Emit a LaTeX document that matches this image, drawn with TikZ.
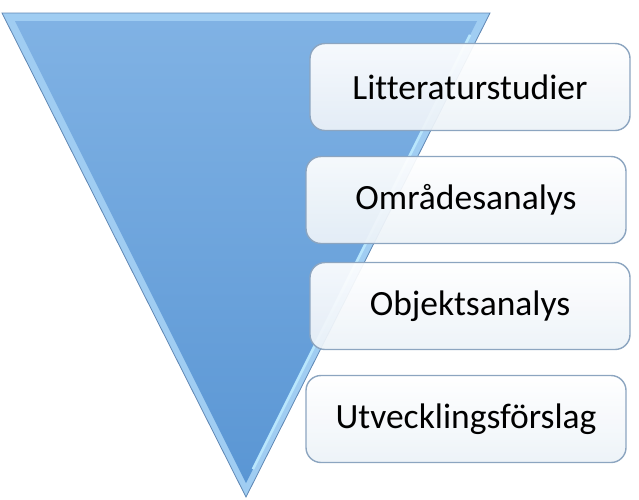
\documentclass[tikz,border=0pt]{standalone}
\usepackage{fontspec}
\setmainfont[Ligatures=NoCommon]{Carlito}
\usetikzlibrary{positioning,calc}
\definecolor{facetop}{RGB}{128,178,228}
\definecolor{facebot}{RGB}{90,150,212}
\definecolor{bevel}{RGB}{160,205,242}
\definecolor{rim}{RGB}{95,135,180}
\definecolor{gloss}{RGB}{185,230,252}
\definecolor{boxedge}{RGB}{140,165,192}
\definecolor{boxbot}{RGB}{236,242,248}

\begin{document}
\begin{tikzpicture}[x=1pt,y=-1pt,
  stage/.style={draw=boxedge, line width=1.4pt, rounded corners=15pt,
    top color=white, bottom color=boxbot, fill opacity=0.93, text opacity=1,
    minimum width=320pt, minimum height=87pt,
    font=\fontsize{35.5}{38}\selectfont}]
\useasboundingbox (0,0) rectangle (639,499);
% funnel
\coordinate (tl) at (2,13);
\coordinate (tr) at (490,13);
\coordinate (ap) at (246,497);
\coordinate (itl) at (15,21);
\coordinate (itr) at (477,21);
\coordinate (iap) at (246,483);
\fill[bevel] (tl) -- (tr) -- (ap) -- cycle;
\shade[top color=facetop, bottom color=facebot] (itl) -- (itr) -- (iap) -- cycle;
\draw[gloss, line width=2.5pt] ($(itr)!0.03!(iap)$) -- ($(itr)!0.97!(iap)$);
\draw[rim, line width=0.8pt, line join=miter] (tl) -- (tr) -- (ap) -- cycle;
% stages
\node[stage] (lit) at (470,87) {Litteraturstudier};
\node[stage] (omr) at (466,200) {Områdesanalys};
\node[stage] (obj) at (470,306) {Objektsanalys};
\node[stage] (utv) at (466,419) {Utvecklingsförslag};
\end{tikzpicture}
\end{document}
